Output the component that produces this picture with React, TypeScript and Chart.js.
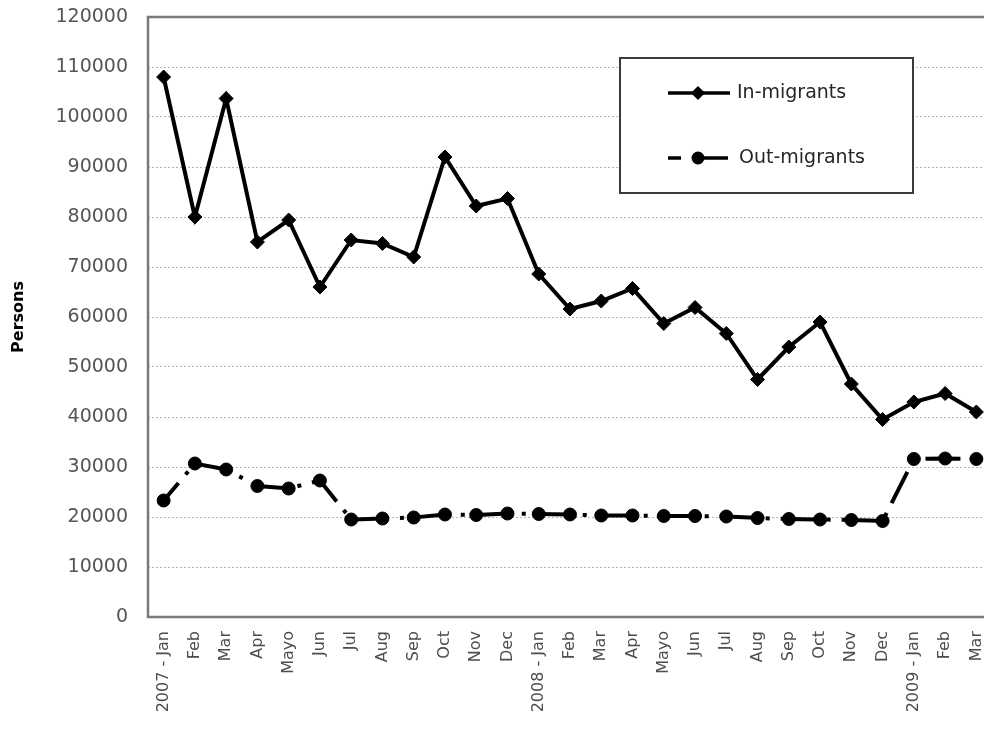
import React, { useEffect, useRef } from "react";
import { Chart, registerables } from "chart.js";

Chart.register(...registerables);

const categories = [
  "2007 - Jan", "Feb", "Mar", "Apr", "Mayo", "Jun", "Jul", "Aug", "Sep", "Oct", "Nov", "Dec",
  "2008 - Jan", "Feb", "Mar", "Apr", "Mayo", "Jun", "Jul", "Aug", "Sep", "Oct", "Nov", "Dec",
  "2009 - Jan", "Feb", "Mar",
];

const inMigrants = [
  108000, 80000, 103700, 75000, 79400, 66000, 75400, 74700, 72000, 92000, 82200, 83700,
  68600, 61600, 63200, 65700, 58700, 61900, 56700, 47500, 54000, 59000, 46600, 39500,
  43000, 44700, 41000,
];

const outMigrants = [
  23300, 30700, 29500, 26200, 25700, 27300, 19500, 19700, 19900, 20500, 20400, 20700,
  20600, 20500, 20300, 20300, 20200, 20200, 20100, 19800, 19600, 19500, 19400, 19200,
  31600, 31700, 31600,
];

const seriesNames = ["In-migrants", "Out-migrants"];
const yTitle = "Persons";

const FONT = '"DejaVu Sans", Verdana, sans-serif';

const frameBorder = {
  id: "frameBorder",
  beforeDatasetsDraw(chart: any) {
    const { ctx, chartArea } = chart;
    ctx.save();
    ctx.strokeStyle = "#7a7a7a";
    ctx.lineWidth = 2.5;
    ctx.strokeRect(chartArea.left, chartArea.top, chartArea.right - chartArea.left, chartArea.bottom - chartArea.top);
    ctx.restore();
  },
};

const boxLegend = {
  id: "boxLegend",
  afterDraw(chart: any) {
    const { ctx } = chart;
    const box = { left: 620, top: 58, right: 913, bottom: 193 };
    const rows = [93, 158];
    ctx.save();
    ctx.fillStyle = "#ffffff";
    ctx.fillRect(box.left, box.top, box.right - box.left, box.bottom - box.top);
    ctx.strokeStyle = "#3a3a3a";
    ctx.lineWidth = 2;
    ctx.strokeRect(box.left, box.top, box.right - box.left, box.bottom - box.top);

    chart.data.datasets.forEach((ds: any, i: number) => {
      const y = rows[i];
      const mx = 698;
      ctx.strokeStyle = ds.borderColor;
      ctx.fillStyle = ds.pointBackgroundColor;
      ctx.lineWidth = 3.5;
      ctx.setLineDash([]);
      ctx.beginPath();
      if (i === 0) {
        ctx.moveTo(668, y);
        ctx.lineTo(730, y);
      } else {
        ctx.moveTo(668, y);
        ctx.lineTo(681, y);
        ctx.moveTo(mx, y);
        ctx.lineTo(728, y);
      }
      ctx.stroke();
      ctx.beginPath();
      if (ds.pointStyle === "rectRot") {
        const r = 7;
        ctx.moveTo(mx, y - r);
        ctx.lineTo(mx + r, y);
        ctx.lineTo(mx, y + r);
        ctx.lineTo(mx - r, y);
        ctx.closePath();
      } else {
        ctx.arc(mx, y, 6.5, 0, Math.PI * 2);
      }
      ctx.fill();
      ctx.fillStyle = "#262626";
      ctx.font = `19px ${FONT}`;
      ctx.textAlign = "left";
      ctx.textBaseline = "middle";
      ctx.fillText(ds.label, i === 0 ? 737 : 739, y);
    });
    ctx.restore();
  },
};

export default function App() {
  const ref = useRef<HTMLCanvasElement>(null);

  useEffect(() => {
    const chart = new Chart(ref.current as HTMLCanvasElement, {
      type: "line",
      data: {
        labels: categories,
        datasets: [
          {
            label: seriesNames[0],
            data: inMigrants,
            borderColor: "#000000",
            backgroundColor: "#000000",
            pointBackgroundColor: "#000000",
            pointBorderColor: "#000000",
            borderWidth: 4,
            pointStyle: "rectRot",
            pointRadius: 7,
            pointBorderWidth: 1,
            tension: 0,
            fill: false,
          },
          {
            label: seriesNames[1],
            data: outMigrants,
            borderColor: "#000000",
            backgroundColor: "#000000",
            pointBackgroundColor: "#000000",
            pointBorderColor: "#000000",
            borderWidth: 4,
            borderDash: [35, 11, 4, 11],
            borderDashOffset: 12,
            pointStyle: "circle",
            pointRadius: 6.5,
            pointBorderWidth: 1,
            tension: 0,
            fill: false,
          },
        ],
      },
      options: {
        responsive: false,
        maintainAspectRatio: false,
        devicePixelRatio: 1,
        animation: false,
        layout: { padding: { left: 0, top: 17, right: 3, bottom: 0 } },
        plugins: {
          legend: { display: false },
          tooltip: { enabled: false },
        },
        scales: {
          x: {
            type: "category",
            offset: true,
            grid: { display: false, drawTicks: false },
            border: { display: false },
            ticks: {
              autoSkip: false,
              minRotation: 90,
              maxRotation: 90,
              padding: 14,
              color: "#4d4d4d",
              font: { family: FONT, size: 16 },
            },
            afterFit: (scale: any) => {
              scale.height = 124;
              scale.paddingLeft = 0;
              scale.paddingRight = 0;
            },
          },
          y: {
            min: 0,
            max: 120000,
            grid: {
              color: "#b4b4b4",
              lineWidth: 1,
              drawTicks: false,
            },
            border: { display: false, dash: [2, 2] },
            ticks: {
              stepSize: 10000,
              padding: 20,
              color: "#555555",
              font: { family: FONT, size: 19 },
              callback: (v: any) => String(v),
            },
            title: {
              display: true,
              text: yTitle,
              color: "#000000",
              font: { family: FONT, size: 16, weight: "bold" },
              padding: { top: 9, bottom: 0 },
            },
            afterFit: (scale: any) => {
              scale.width = 148;
              scale.paddingTop = 0;
              scale.paddingBottom = 0;
            },
          },
        },
      },
      plugins: [frameBorder, boxLegend],
    } as any);
    return () => chart.destroy();
  }, []);

  return (
    <div
      style={{
        position: "fixed",
        left: 0,
        top: 0,
        width: 984,
        height: 741,
        overflow: "hidden",
        background: "#ffffff",
      }}
    >
      <canvas ref={ref} width={1000} height={741} style={{ display: "block", width: 1000, height: 741 }} />
    </div>
  );
}
